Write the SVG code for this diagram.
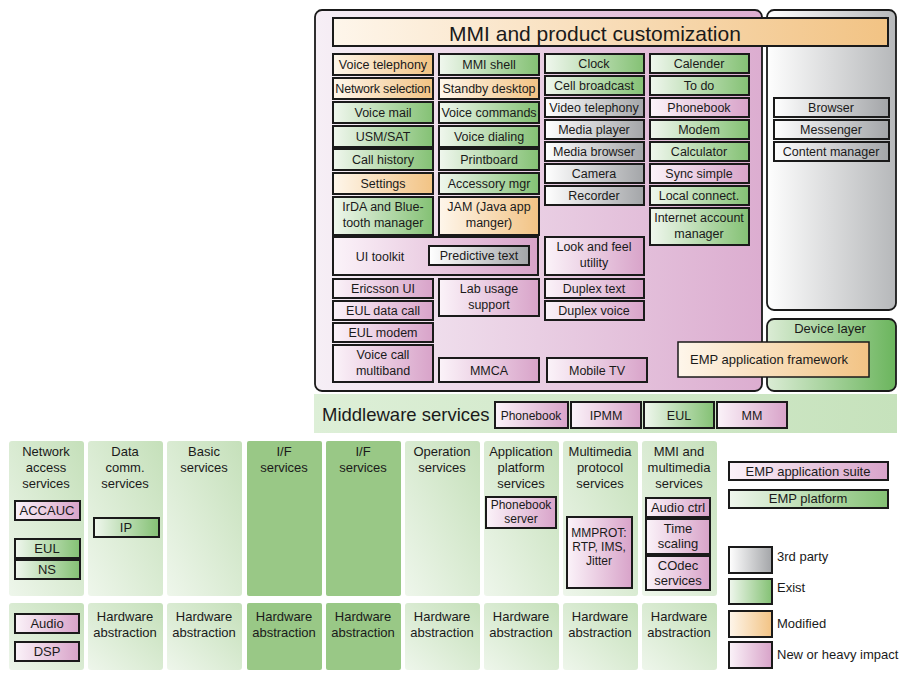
<svg xmlns="http://www.w3.org/2000/svg" width="902" height="674" viewBox="0 0 902 674">
<defs>
<linearGradient id="gG"><stop offset="0" stop-color="#f0f7ee"/><stop offset="1" stop-color="#84c174"/></linearGradient>
<linearGradient id="gO"><stop offset="0" stop-color="#fef6eb"/><stop offset="1" stop-color="#f2c384"/></linearGradient>
<linearGradient id="gP"><stop offset="0" stop-color="#fbf3f9"/><stop offset="1" stop-color="#d8a3c9"/></linearGradient>
<linearGradient id="gY"><stop offset="0" stop-color="#ffffff"/><stop offset="1" stop-color="#a3a5a8"/></linearGradient>
<linearGradient id="gMain"><stop offset="0" stop-color="#f6eff6"/><stop offset="1" stop-color="#dcadd0"/></linearGradient>
<linearGradient id="gGray"><stop offset="0" stop-color="#fefefe"/><stop offset="1" stop-color="#b6b8ba"/></linearGradient>
<linearGradient id="gDev"><stop offset="0" stop-color="#dbecd5"/><stop offset="1" stop-color="#6bb55d"/></linearGradient>
<linearGradient id="gMid"><stop offset="0" stop-color="#ddefd7"/><stop offset="1" stop-color="#c6e2bc"/></linearGradient>
<linearGradient id="gCol" x1="0" y1="1" x2="1" y2="0"><stop offset="0" stop-color="#eef6eb"/><stop offset="1" stop-color="#c5e0ba"/></linearGradient>
</defs>
<style>
text{font-family:"Liberation Sans",Arial,sans-serif;fill:#1a1a1a;}
.b{stroke:#1a1a1a;stroke-width:2;}
.t{font-size:12.5px;text-anchor:middle;}
.h{font-size:13px;text-anchor:middle;}
.s{font-size:12px;text-anchor:middle;}
.l{font-size:13px;}
.g{fill:url(#gG);}
.o{fill:url(#gO);}
.p{fill:url(#gP);}
.y{fill:url(#gY);}
.col{fill:url(#gCol);}
.colS{fill:#99c886;}
</style>

<g id="containers">
<rect id="mmi-container" x="315" y="10" width="447" height="381" rx="7" fill="url(#gMain)" stroke="#1a1a1a" stroke-width="1.8"/>
<rect id="third-party-container" x="767" y="10" width="129" height="300" rx="7" fill="url(#gGray)" stroke="#1a1a1a" stroke-width="1.8"/>
<g id="device-layer"><rect x="767" y="319" width="129" height="72" rx="7" fill="url(#gDev)" stroke="#1a1a1a" stroke-width="1.8"/><text class="h" x="830" y="333">Device layer</text></g>
<g id="title"><rect class="b o" x="333" y="18" width="555" height="28"/><text x="595" y="41" style="font-size:21px;text-anchor:middle">MMI and product customization</text></g>
</g>

<g id="connectors"></g>

<g id="mmi-apps">
<g id="n1"><rect class="b o" x="333" y="54" width="100" height="21"/><text class="t" x="383" y="69">Voice telephony</text></g>
<g id="n2"><rect class="b o" x="333" y="78" width="100" height="21"/><text class="t" x="383" y="93" style="letter-spacing:-0.2px">Network selection</text></g>
<g id="n3"><rect class="b g" x="333" y="102" width="100" height="21"/><text class="t" x="383" y="117">Voice mail</text></g>
<g id="n4"><rect class="b g" x="333" y="126" width="100" height="21"/><text class="t" x="383" y="141">USM/SAT</text></g>
<g id="n5"><rect class="b g" x="333" y="149" width="100" height="21"/><text class="t" x="383" y="164">Call history</text></g>
<g id="n6"><rect class="b o" x="333" y="173" width="100" height="21"/><text class="t" x="383" y="188">Settings</text></g>
<g id="n7"><rect class="b g" x="333" y="197" width="100" height="38"/><text class="t" x="383" y="211">IrDA and Blue-</text><text class="t" x="383" y="227">tooth manager</text></g>

<g id="n8"><rect class="b g" x="439" y="54" width="100" height="21"/><text class="t" x="489" y="69">MMI shell</text></g>
<g id="n9"><rect class="b o" x="439" y="78" width="100" height="21"/><text class="t" x="489" y="93">Standby desktop</text></g>
<g id="n10"><rect class="b g" x="439" y="102" width="100" height="21"/><text class="t" x="489" y="117">Voice commands</text></g>
<g id="n11"><rect class="b g" x="439" y="126" width="100" height="21"/><text class="t" x="489" y="141">Voice dialing</text></g>
<g id="n12"><rect class="b g" x="439" y="149" width="100" height="21"/><text class="t" x="489" y="164">Printboard</text></g>
<g id="n13"><rect class="b g" x="439" y="173" width="100" height="21"/><text class="t" x="489" y="188">Accessory mgr</text></g>
<g id="n14"><rect class="b o" x="439" y="197" width="100" height="38"/><text class="t" x="489" y="211">JAM (Java app</text><text class="t" x="489" y="227">manger)</text></g>

<g id="n15"><rect class="b g" x="545" y="54" width="99" height="19"/><text class="t" x="594" y="68">Clock</text></g>
<g id="n16"><rect class="b g" x="545" y="76" width="99" height="19"/><text class="t" x="594" y="90">Cell broadcast</text></g>
<g id="n17"><rect class="b y" x="545" y="98" width="99" height="19"/><text class="t" x="594" y="112">Video telephony</text></g>
<g id="n18"><rect class="b y" x="545" y="120" width="99" height="19"/><text class="t" x="594" y="134">Media player</text></g>
<g id="n19"><rect class="b y" x="545" y="142" width="99" height="19"/><text class="t" x="594" y="156">Media browser</text></g>
<g id="n20"><rect class="b y" x="545" y="164" width="99" height="19"/><text class="t" x="594" y="178">Camera</text></g>
<g id="n21"><rect class="b y" x="545" y="186" width="99" height="19"/><text class="t" x="594" y="200">Recorder</text></g>

<g id="n22"><rect class="b g" x="650" y="54" width="99" height="19"/><text class="t" x="699" y="68">Calender</text></g>
<g id="n23"><rect class="b g" x="650" y="76" width="99" height="19"/><text class="t" x="699" y="90">To do</text></g>
<g id="n24"><rect class="b p" x="650" y="98" width="99" height="19"/><text class="t" x="699" y="112">Phonebook</text></g>
<g id="n25"><rect class="b g" x="650" y="120" width="99" height="19"/><text class="t" x="699" y="134">Modem</text></g>
<g id="n26"><rect class="b g" x="650" y="142" width="99" height="19"/><text class="t" x="699" y="156">Calculator</text></g>
<g id="n27"><rect class="b p" x="650" y="164" width="99" height="19"/><text class="t" x="699" y="178">Sync simple</text></g>
<g id="n28"><rect class="b g" x="650" y="186" width="99" height="19"/><text class="t" x="699" y="200">Local connect.</text></g>
<g id="n29"><rect class="b g" x="650" y="208" width="99" height="37"/><text class="t" x="699" y="222">Internet account</text><text class="t" x="699" y="238">manager</text></g>

<g id="n30"><rect class="b p" x="333" y="237" width="205" height="38"/><text class="t" x="380" y="261">UI toolkit</text></g>
<g id="n31"><rect class="b y" x="429" y="246" width="100" height="19"/><text class="t" x="479" y="260">Predictive text</text></g>
<g id="n32"><rect class="b p" x="545" y="237" width="99" height="38"/><text class="t" x="594" y="251">Look and feel</text><text class="t" x="594" y="267">utility</text></g>

<g id="n33"><rect class="b p" x="333" y="279" width="100" height="19"/><text class="t" x="383" y="293">Ericsson UI</text></g>
<g id="n34"><rect class="b p" x="333" y="301" width="100" height="19"/><text class="t" x="383" y="315">EUL data call</text></g>
<g id="n35"><rect class="b p" x="333" y="323" width="100" height="19"/><text class="t" x="383" y="337">EUL modem</text></g>
<g id="n36"><rect class="b p" x="333" y="345" width="100" height="37"/><text class="t" x="383" y="359">Voice call</text><text class="t" x="383" y="375">multiband</text></g>
<g id="n37"><rect class="b p" x="439" y="279" width="100" height="37"/><text class="t" x="489" y="293">Lab usage</text><text class="t" x="489" y="309">support</text></g>
<g id="n38"><rect class="b p" x="439" y="358" width="100" height="24"/><text class="t" x="489" y="375">MMCA</text></g>
<g id="n39"><rect class="b p" x="545" y="279" width="99" height="19"/><text class="t" x="594" y="293">Duplex text</text></g>
<g id="n40"><rect class="b p" x="545" y="301" width="99" height="19"/><text class="t" x="594" y="315">Duplex voice</text></g>
<g id="n41"><rect class="b p" x="547" y="358" width="100" height="24"/><text class="t" x="597" y="375">Mobile TV</text></g>
</g>

<g id="third-party">
<g id="n42"><rect class="b y" x="774" y="98" width="115" height="19"/><text class="t" x="831" y="112">Browser</text></g>
<g id="n43"><rect class="b y" x="774" y="120" width="115" height="19"/><text class="t" x="831" y="134">Messenger</text></g>
<g id="n44"><rect class="b y" x="774" y="142" width="115" height="19"/><text class="t" x="831" y="156">Content manager</text></g>
</g>

<g id="emp-framework"><rect x="678" y="342" width="191" height="35" fill="url(#gO)" stroke="#1a1a1a" stroke-width="1.5"/><text class="l" x="690" y="364">EMP application framework</text></g>

<g id="middleware">
<rect x="314" y="394" width="583" height="39" fill="url(#gMid)"/>
<text x="322" y="421" style="font-size:18.5px">Middleware services</text>
<g id="m1"><rect class="b p" x="495" y="402" width="73" height="26"/><text class="t" x="531" y="420" style="font-size:12px">Phonebook</text></g>
<g id="m2"><rect class="b p" x="571" y="402" width="70" height="26"/><text class="t" x="606" y="420">IPMM</text></g>
<g id="m3"><rect class="b g" x="644" y="402" width="70" height="26"/><text class="t" x="679" y="420">EUL</text></g>
<g id="m4"><rect class="b p" x="717" y="402" width="70" height="26"/><text class="t" x="752" y="420">MM</text></g>
</g>

<g id="services">
<g id="s1"><rect class="col" x="9" y="441" width="75" height="155" rx="3"/><text class="h" x="46" y="456">Network</text><text class="h" x="46" y="472">access</text><text class="h" x="46" y="488">services</text></g>
<g id="s2"><rect class="col" x="88" y="441" width="75" height="155" rx="3"/><text class="h" x="125" y="456">Data</text><text class="h" x="125" y="472">comm.</text><text class="h" x="125" y="488">services</text></g>
<g id="s3"><rect class="col" x="167" y="441" width="75" height="155" rx="3"/><text class="h" x="204" y="456">Basic</text><text class="h" x="204" y="472">services</text></g>
<g id="s4"><rect class="colS" x="247" y="441" width="75" height="155" rx="2"/><text class="h" x="284" y="456">I/F</text><text class="h" x="284" y="472">services</text></g>
<g id="s5"><rect class="colS" x="326" y="441" width="75" height="155" rx="2"/><text class="h" x="363" y="456">I/F</text><text class="h" x="363" y="472">services</text></g>
<g id="s6"><rect class="col" x="405" y="441" width="75" height="155" rx="3"/><text class="h" x="442" y="456">Operation</text><text class="h" x="442" y="472">services</text></g>
<g id="s7"><rect class="col" x="484" y="441" width="75" height="155" rx="3"/><text class="h" x="521" y="456">Application</text><text class="h" x="521" y="472">platform</text><text class="h" x="521" y="488">services</text></g>
<g id="s8"><rect class="col" x="563" y="441" width="75" height="155" rx="3"/><text class="h" x="600" y="456">Multimedia</text><text class="h" x="600" y="472">protocol</text><text class="h" x="600" y="488">services</text></g>
<g id="s9"><rect class="col" x="642" y="441" width="75" height="155" rx="3"/><text class="h" x="679" y="456">MMI and</text><text class="h" x="679" y="472">multimedia</text><text class="h" x="679" y="488">services</text></g>

<g id="s1a"><rect class="b p" x="15" y="501" width="65" height="19"/><text class="h" x="47" y="515">ACCAUC</text></g>
<g id="s1b"><rect class="b g" x="15" y="539" width="65" height="19"/><text class="h" x="47" y="553">EUL</text></g>
<g id="s1c"><rect class="b g" x="15" y="560" width="65" height="19"/><text class="h" x="47" y="574">NS</text></g>
<g id="s2a"><rect class="b g" x="94" y="518" width="65" height="19"/><text class="h" x="126" y="532">IP</text></g>
<g id="s7a"><rect class="b p" x="486" y="497" width="70" height="31"/><text class="s" x="521" y="509">Phonebook</text><text class="s" x="521" y="523">server</text></g>
<g id="s8a"><rect class="b p" x="567" y="517" width="65" height="71"/><text class="s" x="599" y="537">MMPROT:</text><text class="s" x="599" y="551">RTP, IMS,</text><text class="s" x="599" y="565">Jitter</text></g>
<g id="s9a"><rect class="b p" x="646" y="498" width="64" height="19"/><text class="h" x="678" y="512">Audio ctrl</text></g>
<g id="s9b"><rect class="b p" x="646" y="519" width="64" height="35"/><text class="h" x="678" y="533">Time</text><text class="h" x="678" y="548">scaling</text></g>
<g id="s9c"><rect class="b p" x="646" y="556" width="64" height="34"/><text class="h" x="678" y="570">COdec</text><text class="h" x="678" y="585">services</text></g>
</g>

<g id="hardware">
<g id="hw1"><rect class="col" x="9" y="603" width="75" height="67" rx="3"/></g>
<g id="hw1a"><rect class="b p" x="15" y="614" width="64" height="19"/><text class="h" x="47" y="628">Audio</text></g>
<g id="hw1b"><rect class="b p" x="15" y="642" width="64" height="19"/><text class="h" x="47" y="656">DSP</text></g>
<g id="hw2"><rect class="col" x="88" y="603" width="75" height="67" rx="3"/><text class="h" x="125" y="621">Hardware</text><text class="h" x="125" y="637">abstraction</text></g>
<g id="hw3"><rect class="col" x="167" y="603" width="75" height="67" rx="3"/><text class="h" x="204" y="621">Hardware</text><text class="h" x="204" y="637">abstraction</text></g>
<g id="hw4"><rect class="colS" x="247" y="603" width="75" height="67" rx="2"/><text class="h" x="284" y="621">Hardware</text><text class="h" x="284" y="637">abstraction</text></g>
<g id="hw5"><rect class="colS" x="326" y="603" width="75" height="67" rx="2"/><text class="h" x="363" y="621">Hardware</text><text class="h" x="363" y="637">abstraction</text></g>
<g id="hw6"><rect class="col" x="405" y="603" width="75" height="67" rx="3"/><text class="h" x="442" y="621">Hardware</text><text class="h" x="442" y="637">abstraction</text></g>
<g id="hw7"><rect class="col" x="484" y="603" width="75" height="67" rx="3"/><text class="h" x="521" y="621">Hardware</text><text class="h" x="521" y="637">abstraction</text></g>
<g id="hw8"><rect class="col" x="563" y="603" width="75" height="67" rx="3"/><text class="h" x="600" y="621">Hardware</text><text class="h" x="600" y="637">abstraction</text></g>
<g id="hw9"><rect class="col" x="642" y="603" width="75" height="67" rx="3"/><text class="h" x="679" y="621">Hardware</text><text class="h" x="679" y="637">abstraction</text></g>
</g>

<g id="legend">
<g id="lg1"><rect class="b p" x="729" y="462" width="159" height="18"/><text class="h" x="808" y="476">EMP application suite</text></g>
<g id="lg2"><rect class="b g" x="729" y="490" width="159" height="18"/><text class="h" x="808" y="503">EMP platform</text></g>
<g id="lg3"><rect class="b y" x="729" y="547" width="43" height="26"/><text class="l" x="777" y="561">3rd party</text></g>
<g id="lg4"><rect class="b g" x="729" y="579" width="43" height="25"/><text class="l" x="777" y="592">Exist</text></g>
<g id="lg5"><rect class="b o" x="729" y="611" width="43" height="26"/><text class="l" x="777" y="628">Modified</text></g>
<g id="lg6"><rect class="b p" x="729" y="642" width="43" height="26"/><text class="l" x="777" y="659">New or heavy impact</text></g>
</g>
</svg>
